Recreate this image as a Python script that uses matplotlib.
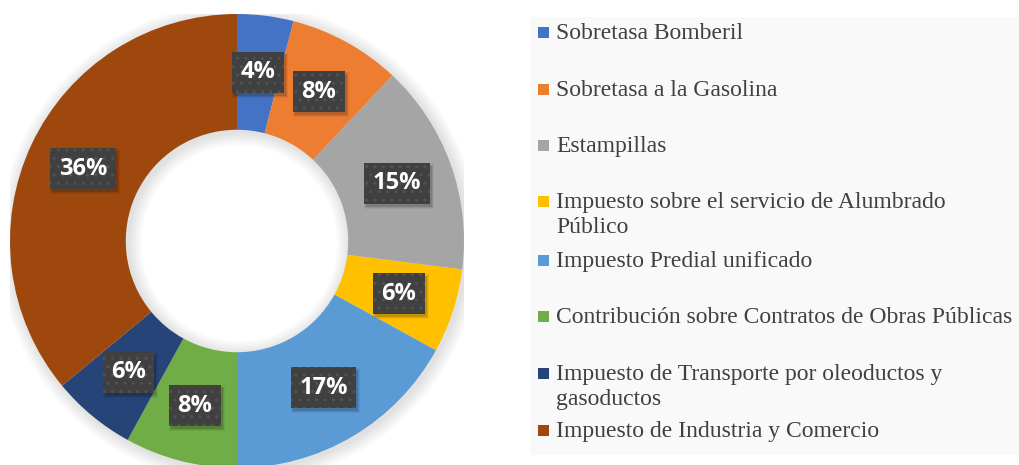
import matplotlib
matplotlib.use("Agg")
import matplotlib.pyplot as plt
from matplotlib.patches import Rectangle, Wedge
from matplotlib.transforms import IdentityTransform

# Data (shares in %)
categories = [
    "Sobretasa Bomberil",
    "Sobretasa a la Gasolina",
    "Estampillas",
    "Impuesto sobre el servicio de Alumbrado\nPúblico",
    "Impuesto Predial unificado",
    "Contribución sobre Contratos de Obras Públicas",
    "Impuesto de Transporte por oleoductos y\ngasoductos",
    "Impuesto de Industria y Comercio",
]
shares = [4, 8, 15, 6, 17, 8, 6, 36]
colors = ["#4472C4", "#ED7D31", "#A5A5A5", "#FFC000",
          "#5B9BD5", "#70AD47", "#264478", "#9E480E"]

# legend row positions (pixels from top, centre of first line of each entry)
legend_rows = [32, 89, 145, 201, 260, 316, 373, 430]

W, H = 1020, 465
fig = plt.figure(figsize=(W / 100, H / 100), dpi=100)
fig.patch.set_facecolor("white")


def fx(x):
    return x / W


def fy(y):
    return 1 - y / H


# legend background
fig.patches.append(Rectangle((fx(530), fy(455)), fx(1020) - fx(530), fy(17) - fy(455),
                             transform=fig.transFigure, facecolor="#f9f9f9",
                             edgecolor="none", zorder=0))

# donut axes: centre (237, 241) px, outer radius 227 px
cx, cy, R = 237, 241, 227
ax = fig.add_axes([fx(cx - R), fy(cy + R), 2 * R / W, 2 * R / H])
inner = 0.49

wedges, texts, autotexts = ax.pie(
    shares, colors=colors, startangle=90, counterclock=False, radius=1,
    wedgeprops=dict(width=1 - inner, edgecolor="none"),
    autopct="%.0f%%", pctdistance=0.75,
    textprops=dict(color="white", fontsize=17, fontweight="bold",
                   family=["Open Sans", "DejaVu Sans"]),
)
ax.set_xlim(-1, 1)
ax.set_ylim(-1, 1)
ax.set_aspect("auto")
ax.axis("off")
for w in wedges:
    w.set_zorder(2)

# soft glow/shadow around ring
for i in range(10):
    d = 0.006 * (i + 1)
    ax.add_patch(Wedge((0.01, -0.01), 1 + d, 0, 360, width=(1 - inner) + 2 * d,
                       facecolor="black", alpha=0.012, edgecolor="none", zorder=0))

for t in autotexts:
    t.set_zorder(5)
    t.set_bbox(dict(boxstyle="square,pad=0.36", facecolor="#404040",
                    edgecolor="#525252", linewidth=0, hatch=".."))

# drop shadows for the label boxes
fig.canvas.draw()
for t in autotexts:
    bb = t.get_bbox_patch().get_window_extent()
    for k, a in enumerate([0.12, 0.08, 0.05]):
        ax.add_patch(Rectangle((bb.x0 + 2 - k, bb.y0 - 3 - k),
                               bb.width + 2 * k, bb.height + 2 * k,
                               transform=IdentityTransform(), facecolor="black",
                               edgecolor="none", alpha=a, zorder=4))

# legend entries drawn by hand to mimic the wrapped Excel layout
for label, col, yc in zip(categories, colors, legend_rows):
    fig.patches.append(Rectangle((fx(538), fy(yc + 6)), 11 / W, 11 / H,
                                 transform=fig.transFigure, facecolor=col,
                                 edgecolor="none", zorder=3))
    fig.text(fx(556), fy(yc - 9), label, ha="left", va="top",
             fontsize=17, color="#404040", family="Liberation Serif",
             linespacing=1.22, transform=fig.transFigure)

fig.savefig("out.png", dpi=100)
